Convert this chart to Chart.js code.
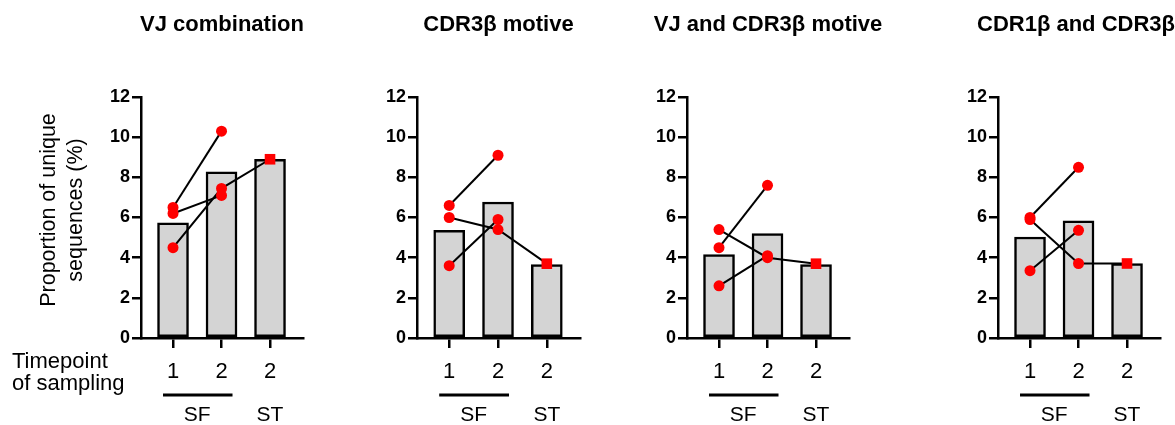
<!DOCTYPE html>
<html lang="en">
<head>
  <meta charset="UTF-8" />
  <title>Proportion of unique sequences</title>
  <script src="https://cdn.jsdelivr.net/npm/chart.js"></script>
  <style>
    body {
      margin: 0;
      background: #fff;
      width: 1175px;
      height: 425px;
      overflow: hidden;
      position: relative;
      font-family: "Liberation Sans", Arial, sans-serif;
    }
    canvas {
      position: absolute;
      top: 0;
    }
  </style>
</head>
<body>
<canvas id="p1" width="330" height="425" style="left:0px"></canvas>
<canvas id="p2" width="280" height="425" style="left:330px"></canvas>
<canvas id="p3" width="290" height="425" style="left:610px"></canvas>
<canvas id="p4" width="275" height="425" style="left:900px"></canvas>

<script>
  // categories: SF timepoint 1, SF timepoint 2, ST timepoint 2
  const xPos = [1, 2, 3];
  const tickLabels = ['1', '2', '2'];
  const groupLabels = ['SF', 'ST'];
  const titles = ['VJ combination', 'CDR3β motive', 'VJ and CDR3β motive', 'CDR1β and CDR3β'];
  const yTitle = ['Proportion of unique', 'sequences (%)'];
  const xTitle = ['Timepoint', 'of sampling'];

  // bar = group mean, t1/t2 = per donor values, st = the ST sample (linked to one donor)
  const vjBars = [5.73, 8.28, 8.9];
  const vjT1 = [6.5, 4.5, 6.2];
  const vjT2 = [10.3, 7.45, 7.1];
  const vjST = [null, 8.9, null];

  const cdr3Bars = [5.36, 6.77, 3.66];
  const cdr3T1 = [6.6, 3.6, 6.0];
  const cdr3T2 = [9.1, 5.9, 5.4];
  const cdr3ST = [null, null, 3.7];

  const vjCdr3Bars = [4.15, 5.2, 3.66];
  const vjCdr3T1 = [4.5, 2.6, 5.4];
  const vjCdr3T2 = [7.6, 4.1, 4.0];
  const vjCdr3ST = [null, null, 3.7];

  const cdr13Bars = [5.03, 5.83, 3.71];
  const cdr13T1 = [6.0, 3.35, 5.9];
  const cdr13T2 = [8.5, 5.36, 3.71];
  const cdr13ST = [null, null, 3.71];

  const FONT = '"Liberation Sans", Arial, sans-serif';

  const panels = [
    { id: 'p1', left: 0,   width: 330, area: [141, 303], title: titles[0], bars: vjBars, t1: vjT1, t2: vjT2, st: vjST, first: true },
    { id: 'p2', left: 330, width: 280, area: [417, 580], title: titles[1], bars: cdr3Bars, t1: cdr3T1, t2: cdr3T2, st: cdr3ST },
    { id: 'p3', left: 610, width: 290, area: [687, 849], title: titles[2], bars: vjCdr3Bars, t1: vjCdr3T1, t2: vjCdr3T2, st: vjCdr3ST },
    { id: 'p4', left: 900, width: 275, area: [998, 1160], title: titles[3], bars: cdr13Bars, t1: cdr13T1, t2: cdr13T2, st: cdr13ST }
  ];

  function extrasPlugin(p) {
    return {
      id: 'extras',
      afterDraw(chart) {
        const ctx = chart.ctx;
        const ca = chart.chartArea;
        const x = chart.scales.x;
        ctx.save();
        ctx.fillStyle = '#000';

        // title
        ctx.font = 'bold 22px ' + FONT;
        ctx.textAlign = 'center';
        ctx.textBaseline = 'alphabetic';
        const tw = ctx.measureText(p.title).width;
        const cx = Math.min((ca.left + ca.right) / 2, chart.width - tw / 2);
        ctx.fillText(p.title, cx, 31);

        // SF bar + group labels
        const x1 = x.getPixelForValue(xPos[0]);
        const x2 = x.getPixelForValue(xPos[1]);
        const x3 = x.getPixelForValue(xPos[2]);
        ctx.lineWidth = 3;
        ctx.strokeStyle = '#000';
        ctx.beginPath();
        ctx.moveTo(x1 - 10, 395);
        ctx.lineTo(x2 + 11, 395);
        ctx.stroke();
        ctx.font = '21px ' + FONT;
        ctx.fillText(groupLabels[0], (x1 + x2) / 2, 421);
        ctx.fillText(groupLabels[1], x3, 421);

        if (p.first) {
          ctx.font = '22px ' + FONT;
          ctx.textAlign = 'left';
          ctx.fillText(xTitle[0], 12, 368);
          ctx.fillText(xTitle[1], 12, 390);

          ctx.font = '21.5px ' + FONT;
          ctx.translate(0, 210);
          ctx.rotate(-Math.PI / 2);
          ctx.textAlign = 'center';
          ctx.fillText(yTitle[0], 0, 55);
          ctx.fillText(yTitle[1], 0, 82);
        }
        ctx.restore();
      }
    };
  }

  panels.forEach(p => {
    const donorLines = p.t1.map((v, i) => {
      const pts = [{ x: xPos[0], y: v }, { x: xPos[1], y: p.t2[i] }];
      if (p.st[i] !== null) pts.push({ x: xPos[2], y: p.st[i] });
      return {
        type: 'line',
        data: pts,
        borderColor: '#000',
        borderWidth: 2,
        pointRadius: 0,
        fill: false,
        tension: 0,
        order: 2
      };
    });

    const circles = p.t1.map(v => ({ x: xPos[0], y: v }))
      .concat(p.t2.map(v => ({ x: xPos[1], y: v })));
    const squares = p.st.filter(v => v !== null).map(v => ({ x: xPos[2], y: v }));

    new Chart(document.getElementById(p.id), {
      type: 'bar',
      data: {
        datasets: [
          {
            type: 'bar',
            data: p.bars.map((v, i) => ({ x: xPos[i], y: v })),
            backgroundColor: '#d4d4d4',
            borderColor: '#000',
            borderWidth: 2.5,
            borderSkipped: false,
            barThickness: 31,
            order: 3
          },
          ...donorLines,
          {
            type: 'line',
            data: circles,
            showLine: false,
            pointRadius: 5.5,
            pointBackgroundColor: '#ff0000',
            pointBorderWidth: 0,
            order: 1
          },
          {
            type: 'line',
            data: squares,
            showLine: false,
            pointStyle: 'rect',
            pointRadius: 7.5,
            pointBackgroundColor: '#ff0000',
            pointBorderWidth: 0,
            order: 0
          }
        ]
      },
      options: {
        responsive: false,
        animation: false,
        events: [],
        layout: {
          padding: { left: p.area[0] - p.left - 40, right: p.left + p.width - p.area[1], top: 97, bottom: 0 }
        },
        plugins: { legend: { display: false }, tooltip: { enabled: false } },
        scales: {
          x: {
            type: 'linear',
            min: 0.34,
            max: 3.68,
            offset: false,
            afterBuildTicks: s => { s.ticks = xPos.map(v => ({ value: v })); },
            afterFit: s => { s.height = 87; },
            ticks: {
              callback: (v) => tickLabels[xPos.indexOf(v)],
              color: '#000',
              font: { family: FONT, size: 22 },
              padding: 11,
              maxRotation: 0
            },
            grid: { display: true, offset: false, drawOnChartArea: false, drawTicks: true, tickLength: 10, color: '#000', lineWidth: 2.5 },
            border: { display: true, color: '#000', width: 2.5 }
          },
          y: {
            min: 0,
            max: 12,
            afterFit: s => { s.width = 40; },
            ticks: {
              stepSize: 2,
              color: '#000',
              font: { family: FONT, size: 18, weight: 'bold' },
              padding: 2
            },
            grid: { display: true, drawOnChartArea: false, drawTicks: true, tickLength: 9, color: '#000', lineWidth: 2.5 },
            border: { display: true, color: '#000', width: 2.5 }
          }
        }
      },
      plugins: [extrasPlugin(p)]
    });
  });
</script>
</body>
</html>
